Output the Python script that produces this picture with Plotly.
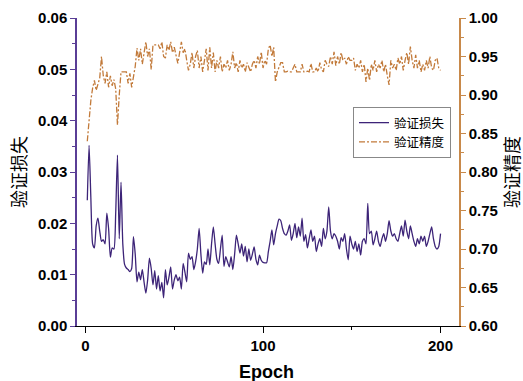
import plotly.graph_objects as go

epochs = list(range(1, 201))

val_loss = [
    0.0245, 0.0352, 0.0250, 0.0160, 0.0152, 0.0195, 0.0210, 0.0185, 0.0165, 0.0168,
    0.0160, 0.0220, 0.0190, 0.0134, 0.0152, 0.0150, 0.0220, 0.0333, 0.0170, 0.0280,
    0.0160, 0.0120, 0.0113, 0.0110, 0.0106, 0.0112, 0.0174, 0.0140, 0.0086, 0.0105,
    0.0090, 0.0110, 0.0085, 0.0064, 0.0090, 0.0132, 0.0112, 0.0080, 0.0108, 0.0072,
    0.0098, 0.0068, 0.0085, 0.0055, 0.0110, 0.0080, 0.0095, 0.0115, 0.0072, 0.0090,
    0.0100, 0.0088, 0.0095, 0.0072, 0.0122, 0.0105, 0.0086, 0.0142, 0.0130, 0.0135,
    0.0110, 0.0125, 0.0150, 0.0190, 0.0140, 0.0103, 0.0125, 0.0120, 0.0150, 0.0119,
    0.0160, 0.0193, 0.0160, 0.0130, 0.0122, 0.0150, 0.0177, 0.0116, 0.0135, 0.0125,
    0.0115, 0.0135, 0.0110, 0.0140, 0.0177, 0.0160, 0.0142, 0.0160, 0.0136, 0.0155,
    0.0125, 0.0150, 0.0128, 0.0140, 0.0154, 0.0130, 0.0119, 0.0138, 0.0128, 0.0124,
    0.0123, 0.0123, 0.0145, 0.0165, 0.0187, 0.0158, 0.0180, 0.0195, 0.0208, 0.0205,
    0.0190, 0.0180, 0.0177, 0.0185, 0.0197, 0.0167, 0.0180, 0.0200, 0.0172, 0.0193,
    0.0175, 0.0210, 0.0165, 0.0178, 0.0152, 0.0170, 0.0187, 0.0165, 0.0175, 0.0145,
    0.0160, 0.0170, 0.0155, 0.0190, 0.0170, 0.0185, 0.0232, 0.0185, 0.0170, 0.0180,
    0.0175, 0.0165, 0.0150, 0.0172, 0.0165, 0.0180, 0.0150, 0.0129, 0.0175, 0.0160,
    0.0150, 0.0165, 0.0145, 0.0160, 0.0138, 0.0165, 0.0170, 0.0160, 0.0239, 0.0180,
    0.0185, 0.0158, 0.0170, 0.0185, 0.0165, 0.0155, 0.0170, 0.0180, 0.0165, 0.0180,
    0.0205, 0.0185, 0.0175, 0.0180, 0.0170, 0.0165, 0.0180, 0.0195, 0.0175, 0.0206,
    0.0185, 0.0170, 0.0195, 0.0180, 0.0165, 0.0155, 0.0170, 0.0160, 0.0175, 0.0165,
    0.0175, 0.0155, 0.0165, 0.0180, 0.0193, 0.0170, 0.0155, 0.0150, 0.0155, 0.0180,
]

val_acc = [
    0.840, 0.868, 0.893, 0.909, 0.919, 0.906, 0.915, 0.922, 0.950, 0.925,
    0.915, 0.930, 0.910, 0.925, 0.912, 0.920, 0.908, 0.861, 0.900, 0.930,
    0.930, 0.930, 0.930, 0.915, 0.928, 0.910, 0.925, 0.937, 0.961, 0.945,
    0.960, 0.940, 0.955, 0.969, 0.950, 0.960, 0.933, 0.965, 0.965, 0.965,
    0.965, 0.960, 0.969, 0.950, 0.948, 0.965, 0.958, 0.969, 0.955, 0.962,
    0.950, 0.941, 0.955, 0.969, 0.955, 0.960, 0.945, 0.932, 0.940, 0.955,
    0.935, 0.950, 0.958, 0.935, 0.950, 0.930, 0.945, 0.960, 0.932, 0.962,
    0.935, 0.955, 0.930, 0.945, 0.935, 0.950, 0.930, 0.940, 0.935, 0.945,
    0.932, 0.940, 0.956, 0.935, 0.942, 0.930, 0.945, 0.935, 0.940, 0.930,
    0.942, 0.935, 0.930, 0.940, 0.945, 0.935, 0.950, 0.940, 0.956, 0.935,
    0.945, 0.940, 0.960, 0.965, 0.950, 0.962, 0.917, 0.930, 0.935, 0.942,
    0.942, 0.930, 0.930, 0.931, 0.930, 0.930, 0.935, 0.940, 0.930, 0.930,
    0.930, 0.940, 0.930, 0.930, 0.931, 0.930, 0.941, 0.930, 0.930, 0.935,
    0.930, 0.942, 0.933, 0.930, 0.945, 0.940, 0.937, 0.950, 0.940, 0.956,
    0.938, 0.950, 0.940, 0.955, 0.945, 0.948, 0.940, 0.950, 0.945, 0.945,
    0.948, 0.932, 0.940, 0.935, 0.945, 0.930, 0.940, 0.917, 0.935, 0.919,
    0.940, 0.932, 0.945, 0.930, 0.940, 0.935, 0.945, 0.930, 0.940, 0.925,
    0.913, 0.945, 0.935, 0.940, 0.932, 0.948, 0.940, 0.950, 0.932, 0.945,
    0.955, 0.940, 0.963, 0.945, 0.935, 0.952, 0.935, 0.945, 0.930, 0.940,
    0.932, 0.945, 0.935, 0.950, 0.935, 0.932, 0.945, 0.948, 0.935, 0.932,
]

x_ticks = [0, 100, 200]
loss_ticks = [0.00, 0.01, 0.02, 0.03, 0.04, 0.05, 0.06]
acc_ticks = [0.60, 0.65, 0.70, 0.75, 0.80, 0.85, 0.90, 0.95, 1.00]

PURPLE = "#3D2478"
PURPLE_AX = "#5A3E96"
ORANGE = "#C27A3A"
ORANGE_AX = "#C8894A"
SANS = "Liberation Sans, Arial, sans-serif"
TICKFONT = dict(family=SANS, size=15, color="black", weight="bold")
CJK = "Noto Sans CJK SC, sans-serif"

L, R, T, B = 77, 64, 18, 55
W, H = 523, 381
PW = W - L - R
PH = H - T - B

fig = go.Figure()
fig.add_trace(go.Scatter(
    x=epochs, y=val_loss, name="验证损失", mode="lines",
    line=dict(color=PURPLE, width=1.3, shape="spline", smoothing=0.6),
    xaxis="x", yaxis="y",
))
fig.add_trace(go.Scatter(
    x=epochs, y=val_acc, name="验证精度", mode="lines",
    line=dict(color=ORANGE, width=1.3, dash="6px,2px,2px,2px"),
    xaxis="x", yaxis="y2",
))

fig.update_layout(
    width=W, height=H,
    margin=dict(l=L, r=R, t=T, b=B, autoexpand=False),
    paper_bgcolor="white", plot_bgcolor="white",
    showlegend=True,
    legend=dict(
        x=(451 - L) / PW, y=(H - B - 107) / PH, xanchor="right", yanchor="top",
        bgcolor="white", bordercolor="#888888", borderwidth=1,
        font=dict(family=CJK, size=12.5, color="black"),
        tracegroupgap=0, itemwidth=30,
    ),
    xaxis=dict(
        range=[-4.8, 210.4], tickvals=x_ticks, ticktext=[str(t) for t in x_ticks],
        showgrid=False, zeroline=False, automargin=False,
        showline=True, linecolor="black", linewidth=1,
        ticks="outside", ticklen=6, tickcolor="black", tickwidth=1,
        minor=dict(ticks="outside", ticklen=3, dtick=50, tick0=0, tickcolor="black", showgrid=False),
        tickfont=TICKFONT,
        anchor="y",
    ),
    xaxis2=dict(
        range=[-4.8, 210.4], overlaying="x", side="top", matches="x",
        tickvals=[0, 50, 100, 150, 200], showticklabels=False,
        showgrid=False, zeroline=False, automargin=False,
        showline=True, linecolor="black", linewidth=1,
        ticks="inside", ticklen=5, tickcolor="black", anchor="y",
    ),
    yaxis=dict(
        range=[0, 0.06], tickvals=loss_ticks, ticktext=[f"{t:.2f}" for t in loss_ticks],
        showgrid=False, zeroline=False, automargin=False,
        showline=True, linecolor=PURPLE_AX, linewidth=1.5,
        ticks="outside", ticklen=5, tickcolor=PURPLE_AX, tickwidth=1,
        minor=dict(ticks="outside", ticklen=3, dtick=0.005, tick0=0, tickcolor=PURPLE_AX, showgrid=False),
        tickfont=TICKFONT,
    ),
    yaxis2=dict(
        range=[0.6, 1.0], tickvals=acc_ticks, ticktext=[f"{t:.2f}" for t in acc_ticks],
        overlaying="y", side="right", anchor="x",
        showgrid=False, zeroline=False, automargin=False,
        showline=True, linecolor=ORANGE_AX, linewidth=1.5,
        ticks="outside", ticklen=5, tickcolor=ORANGE_AX, tickwidth=1,
        minor=dict(ticks="outside", ticklen=3, dtick=0.025, tick0=0.6, tickcolor=ORANGE_AX, showgrid=False),
        tickfont=TICKFONT,
    ),
    annotations=[
        dict(text="Epoch", xref="paper", yref="paper", x=0.5 + (266 - (L + PW / 2)) / PW, y=(H - B - 372) / PH,
             xanchor="center", yanchor="middle", showarrow=False,
             font=dict(family=SANS, size=18, color="black", weight="bold")),
        dict(text="验证损失", xref="paper", yref="paper", x=(18 - L) / PW, y=0.5,
             xanchor="center", yanchor="middle", showarrow=False, textangle=-90,
             font=dict(family=CJK, size=18, color="black")),
        dict(text="验证精度", xref="paper", yref="paper", x=(511 - L) / PW, y=0.5,
             xanchor="center", yanchor="middle", showarrow=False, textangle=-90,
             font=dict(family=CJK, size=18, color="black")),
    ],
)

fig.write_html(
    "out.html",
    config={"displayModeBar": False},
    post_script="document.body.style.margin='0';document.body.style.padding='0';document.body.style.overflow='hidden';",
)
